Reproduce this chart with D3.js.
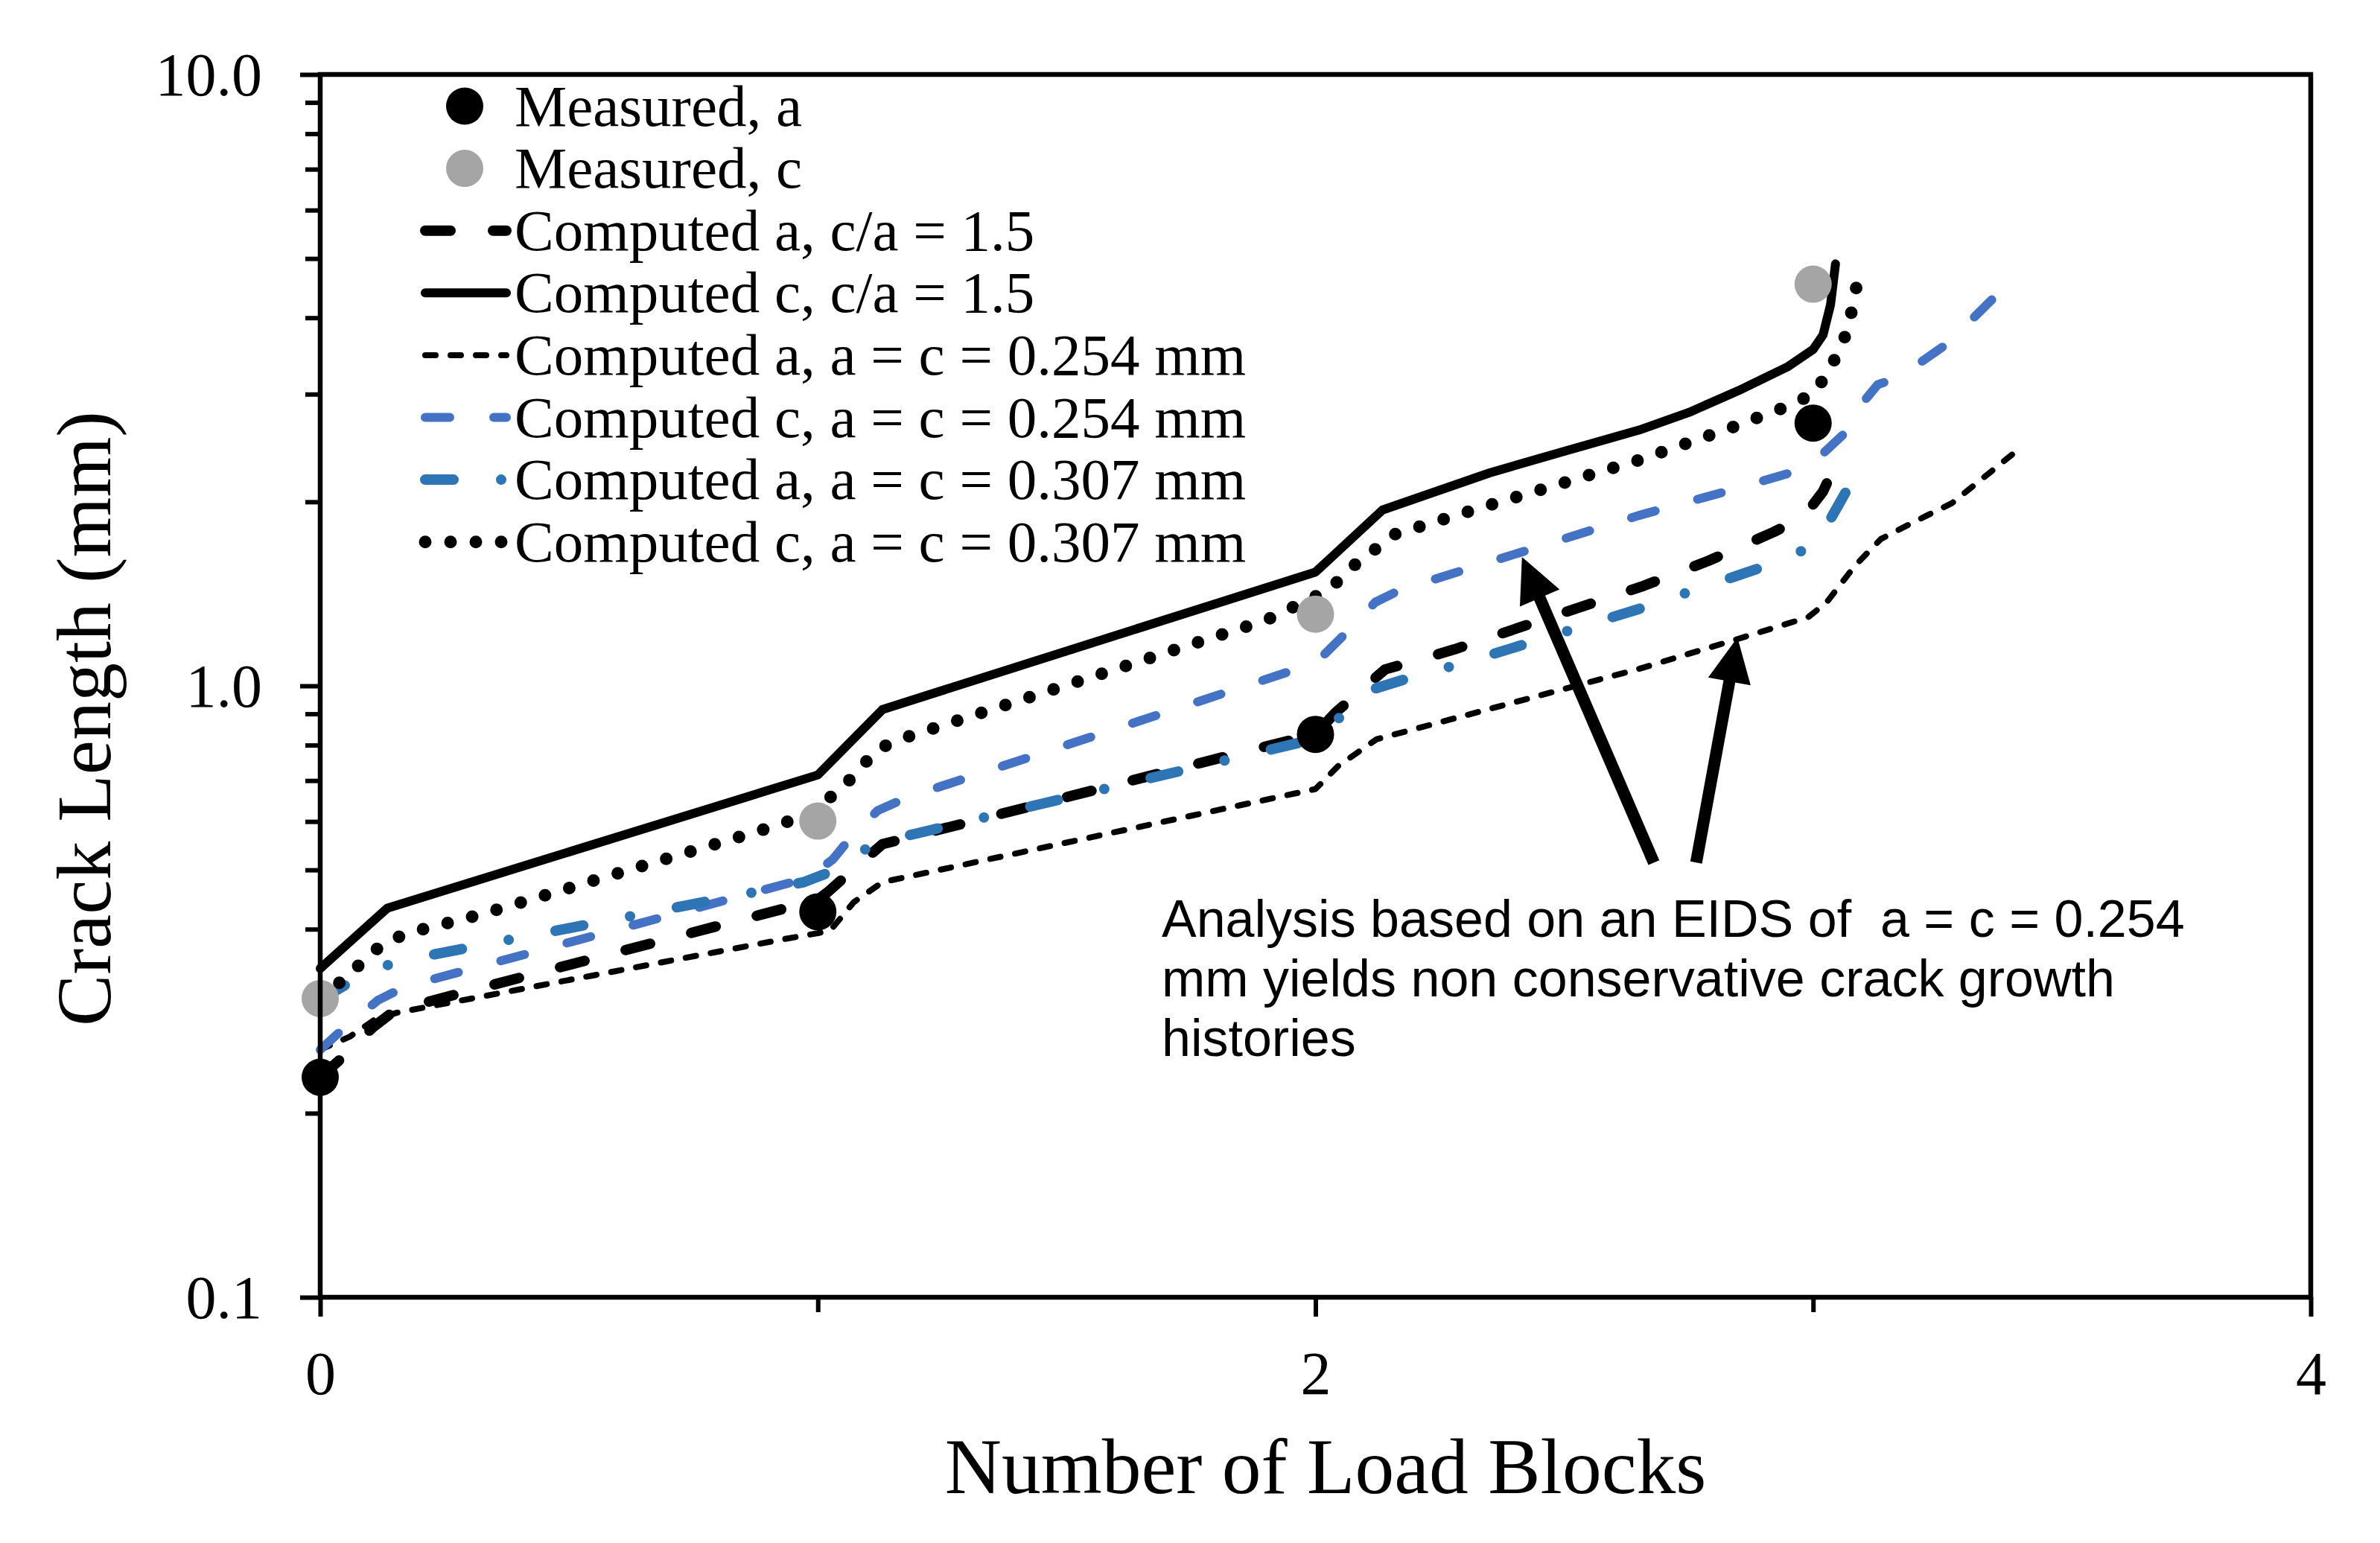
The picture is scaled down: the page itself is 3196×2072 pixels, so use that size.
<!DOCTYPE html>
<html><head><meta charset="utf-8">
<script src="https://cdn.jsdelivr.net/npm/d3@7"></script>
<style>html,body{margin:0;padding:0;background:#fff;} svg{display:block;}</style>
</head><body>
<script>
// ---------------- DATA ----------------
const xMeasured = [0, 1, 2, 3];
const measuredA = [0.229, 0.427, 0.833, 2.69];
const measuredC = [0.308, 0.601, 1.31, 4.54];

const xCompA15 = [0, 0.05, 0.105, 0.15, 0.95, 1.0, 1.02, 1.07, 1.13, 1.85, 2.0, 2.04, 2.14, 2.21, 2.28, 2.66, 2.79, 2.92, 2.98, 3.02, 3.055];
const yCompA15 = [0.229, 0.249, 0.276, 0.2945, 0.436, 0.447, 0.46, 0.50, 0.551, 0.7775, 0.834, 0.904, 1.064, 1.104, 1.148, 1.458, 1.602, 1.784, 1.886, 2.08, 2.40];

const xCompC15 = [0, 0.135, 1.0, 1.13, 2.0, 2.135, 2.35, 2.5, 2.65, 2.75, 2.85, 2.95, 3.0, 3.02, 3.035, 3.045];
const yCompC15 = [0.345, 0.433, 0.715, 0.915, 1.535, 1.94, 2.23, 2.42, 2.62, 2.8, 3.04, 3.33, 3.55, 3.75, 4.2, 4.9];

const xCompA254 = [0, 0.06, 0.108, 0.154, 0.93, 1.0, 1.025, 1.072, 1.13, 2.0, 2.046, 2.123, 2.65, 2.85, 2.99, 3.027, 3.084, 3.136, 3.193, 3.279, 3.40];
const yCompA254 = [0.254, 0.267, 0.284, 0.292, 0.385, 0.394, 0.398, 0.4426, 0.4775, 0.678, 0.740, 0.818, 1.066, 1.194, 1.295, 1.369, 1.572, 1.738, 1.837, 1.99, 2.39];

const xCompC254 = [0, 0.055, 0.116, 0.17, 0.98, 1.03, 1.07, 1.12, 1.18, 2.0, 2.02, 2.07, 2.12, 2.17, 2.65, 2.83, 2.97, 3.02, 3.07, 3.105, 3.13, 3.16, 3.22, 3.27, 3.32, 3.38];
const yCompC254 = [0.254, 0.279, 0.306, 0.322, 0.485, 0.52, 0.57, 0.625, 0.657, 1.09, 1.13, 1.24, 1.37, 1.435, 1.9, 2.085, 2.25, 2.40, 2.62, 2.94, 3.11, 3.17, 3.40, 3.63, 3.98, 4.45];

const xCompA307 = [0, 0.07, 0.15, 0.82, 0.97, 1.04, 1.11, 1.2, 1.97, 2.07, 2.12, 2.21, 2.3, 2.65, 2.93, 3.006, 3.05, 3.09];
const yCompA307 = [0.307, 0.331, 0.3535, 0.451, 0.477, 0.5016, 0.551, 0.574, 0.808, 0.91, 0.99, 1.043, 1.091, 1.336, 1.596, 1.705, 1.97, 2.25];

const xCompC307 = [0, 0.05, 0.12, 0.17, 0.32, 0.9, 0.98, 1.05, 1.12, 1.17, 1.9, 2.0, 2.04, 2.08, 2.16, 2.3, 2.65, 2.85, 2.95, 3.0, 3.025, 3.05, 3.07, 3.08, 3.092];
const yCompC307 = [0.307, 0.333, 0.375, 0.393, 0.422, 0.585, 0.615, 0.682, 0.788, 0.82, 1.28, 1.40, 1.47, 1.58, 1.77, 1.92, 2.34, 2.67, 2.87, 3.0, 3.21, 3.5, 3.83, 4.2, 4.72];

const yTickValues = [0.1, 1, 10];
const yTickLabels = ["0.1", "1.0", "10.0"];
const yMinorValues = [0.2,0.3,0.4,0.5,0.6,0.7,0.8,0.9,2,3,4,5,6,7,8,9];
const xTickValues = [0, 2, 4];
const xTickLabels = ["0", "2", "4"];
const xMinorValues = [1, 3];

const legendLabels = [
  "Measured, a", "Measured, c",
  "Computed a, c/a = 1.5", "Computed c, c/a = 1.5",
  "Computed a, a = c = 0.254 mm", "Computed c, a = c = 0.254 mm",
  "Computed a, a = c = 0.307 mm", "Computed c, a = c = 0.307 mm"
];
const xTitle = "Number of Load Blocks";
const yTitle = "Crack Length (mm)";
const noteLines = [
  "Analysis based on an EIDS of \u00a0a = c = 0.254",
  "mm yields non conservative crack growth",
  "histories"
];
// arrows in data units
const arrowTailX = [2.68, 2.765];
const arrowTailY = [0.514, 0.514];
const arrowTipX = [2.415, 2.848];
const arrowTipY = [1.625, 1.2];

// ---------------- CHART ----------------
const W = 3196, H = 2072;
const L = 430, R = 3103, T = 100, B = 1742;
const serif = "'Liberation Serif','Times New Roman',serif";
const sans = "'Liberation Sans',Arial,sans-serif";

const x = d3.scaleLinear().domain([0, 4]).range([L, R]);
const y = d3.scaleLog().domain([0.1, 10]).range([B, T]);

const svg = d3.select("body").append("svg").attr("width", W).attr("height", H)
  .style("background", "#fff");

const zip = (xs, ys) => xs.map((v, i) => [v, ys[i]]);
const line = d3.line().x(d => x(d[0])).y(d => y(d[1]));

const styles = {
  a15:  {color: "#000",    width: 14, dash: "34,57"},
  c15:  {color: "#000",    width: 12, dash: null},
  a254: {color: "#000",    width: 8,  dash: "14,20"},
  c254: {color: "#4472C4", width: 12, dash: "33,59"},
  a307: {color: "#2E75B6", width: 14, dash: "38,64,0,64"},
  c307: {color: "#000",    width: 17, dash: "0,34"}
};
const series = [
  {key: "a15",  data: zip(xCompA15, yCompA15)},
  {key: "c15",  data: zip(xCompC15, yCompC15)},
  {key: "a254", data: zip(xCompA254, yCompA254)},
  {key: "c254", data: zip(xCompC254, yCompC254)},
  {key: "a307", data: zip(xCompA307, yCompA307)},
  {key: "c307", data: zip(xCompC307, yCompC307)}
];

// axes
const yMajor = d3.axisLeft(y).tickValues(yTickValues).tickSize(27).tickPadding(51)
  .tickFormat((d, i) => yTickLabels[i]);
const yMinor = d3.axisLeft(y).tickValues(yMinorValues).tickSize(20).tickFormat("");
const xMajor = d3.axisBottom(x).tickValues(xTickValues).tickSize(26).tickPadding(30)
  .tickFormat((d, i) => xTickLabels[i]);
const xMinor = d3.axisBottom(x).tickValues(xMinorValues).tickSize(20).tickFormat("");

function styleAxis(g) {
  g.select(".domain").remove();
  g.selectAll(".tick line").attr("stroke", "#000").attr("stroke-width", 6);
  g.selectAll(".tick text").attr("fill", "#000").style("font-family", serif);
}
svg.append("g").attr("transform", `translate(${L},0)`).call(yMinor).call(styleAxis);
svg.append("g").attr("transform", `translate(${L},0)`).call(yMajor).call(styleAxis)
  .selectAll(".tick text").style("font-size", "82px").attr("dy", "0.33em");
svg.append("g").attr("transform", `translate(0,${B})`).call(xMinor).call(styleAxis);
svg.append("g").attr("transform", `translate(0,${B})`).call(xMajor).call(styleAxis)
  .selectAll(".tick text").style("font-size", "82px").attr("dy", null).attr("y", 130);

// series lines, markers on top
const gLines = svg.append("g");
series.forEach(s => {
  const st = styles[s.key];
  gLines.append("path").datum(s.data).attr("d", line)
    .attr("fill", "none").attr("stroke", st.color).attr("stroke-width", st.width)
    .attr("stroke-linecap", "round").attr("stroke-linejoin", "round")
    .attr("stroke-dasharray", st.dash);
});
const gMark = svg.append("g");
gMark.selectAll("circle.ma").data(zip(xMeasured, measuredA)).join("circle")
  .attr("cx", d => x(d[0])).attr("cy", d => y(d[1])).attr("r", 25).attr("fill", "#000");
gMark.selectAll("circle.mc").data(zip(xMeasured, measuredC)).join("circle")
  .attr("cx", d => x(d[0])).attr("cy", d => y(d[1])).attr("r", 25).attr("fill", "#A5A5A5");

// frame
svg.append("rect").attr("x", L).attr("y", T).attr("width", R - L).attr("height", B - T)
  .attr("fill", "none").attr("stroke", "#000").attr("stroke-width", 6.5);

// axis titles
svg.append("text").attr("x", 1780).attr("y", 2005).attr("text-anchor", "middle")
  .style("font-family", serif).style("font-size", "105.5px").text(xTitle);
svg.append("text").attr("transform", "translate(148,965) rotate(-90)").attr("text-anchor", "middle")
  .style("font-family", serif).style("font-size", "104px").text(yTitle);

// legend
const legKeys = ["ma", "mc", "a15", "c15", "a254", "c254", "a307", "c307"];
const gLeg = svg.append("g");
legKeys.forEach((k, i) => {
  const cy = 142.5 + i * 83.6;
  if (k === "ma" || k === "mc") {
    gLeg.append("circle").attr("cx", 624).attr("cy", cy).attr("r", 25)
      .attr("fill", k === "ma" ? "#000" : "#A5A5A5");
  } else {
    const st = styles[k];
    gLeg.append("path").attr("d", `M571,${cy}H680`)
      .attr("fill", "none").attr("stroke", st.color).attr("stroke-width", st.width)
      .attr("stroke-linecap", "round").attr("stroke-dasharray", st.dash);
  }
  gLeg.append("text").attr("x", 691).attr("y", cy + 26)
    .style("font-family", serif).style("font-size", "79px").attr("fill", "#000")
    .text(legendLabels[i]);
});

// annotation
const gNote = svg.append("g");
noteLines.forEach((t, i) => {
  gNote.append("text").attr("x", 1560).attr("y", 1258 + i * 80)
    .style("font-family", sans).style("font-size", "70px").attr("fill", "#000")
    .attr("xml:space", "preserve").text(t);
});
arrowTailX.forEach((_, i) => {
  const x0 = x(arrowTailX[i]), y0 = y(arrowTailY[i]);
  const x1 = x(arrowTipX[i]), y1 = y(arrowTipY[i]);
  const dx = x1 - x0, dy = y1 - y0, len = Math.hypot(dx, dy);
  const ux = dx / len, uy = dy / len, nx = -uy, ny = ux;
  const sw = 16, hl = 60, hw = 58;
  const bx = x1 - ux * hl, by = y1 - uy * hl;
  const pts = [
    [x0 + nx * sw / 2, y0 + ny * sw / 2],
    [bx + nx * sw / 2, by + ny * sw / 2],
    [bx + nx * hw / 2, by + ny * hw / 2],
    [x1, y1],
    [bx - nx * hw / 2, by - ny * hw / 2],
    [bx - nx * sw / 2, by - ny * sw / 2],
    [x0 - nx * sw / 2, y0 - ny * sw / 2]
  ];
  gNote.append("path").attr("d", "M" + pts.map(p => p.join(",")).join("L") + "Z").attr("fill", "#000");
});
</script>
</body></html>
